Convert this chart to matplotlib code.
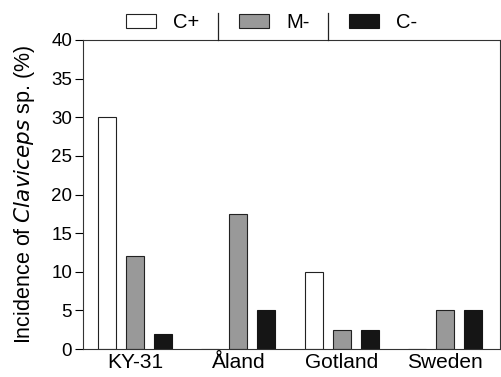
import matplotlib
matplotlib.use('Agg')
import matplotlib.pyplot as plt
import numpy as np

plt.rcParams['font.family'] = ['Liberation Sans', 'DejaVu Sans']

# Datos
sites = ['KY-31', 'Åland', 'Gotland', 'Sweden']
c_plus = [30, 0, 10, 0]
m_minus = [12, 17.5, 2.5, 5]
c_minus = [2, 5, 2.5, 5]

fig = plt.figure(figsize=(5.01, 3.77), dpi=100)
ax = fig.add_axes([0.166, 0.074, 0.832, 0.82])

x = np.arange(len(sites))
w = 0.174
off = 0.27
b1 = ax.bar(x - off, c_plus, w, color='white', edgecolor='#222222', linewidth=0.8, label='C+')
b2 = ax.bar(x, m_minus, w, color='#999999', edgecolor='#222222', linewidth=0.8, label='M-')
b3 = ax.bar(x + off, c_minus, w, color='#151515', edgecolor='#151515', linewidth=0.8, label='C-')

ax.set_xlim(-0.5, 3.53)
ax.set_ylim(0, 40)
ax.set_yticks(range(0, 41, 5))
ax.set_xticks(x)
ax.set_xticklabels(sites)
ax.tick_params(axis='x', length=0, labelsize=15, pad=3)
ax.tick_params(axis='y', length=6, width=0.8, labelsize=13.5, pad=2)
for s in ax.spines.values():
    s.set_linewidth(0.8)
    s.set_color('#333333')

ax.set_ylabel('Incidence of $\\mathit{Claviceps}$ sp. (%)', fontsize=15.5, labelpad=10)

# Leyenda arriba con separadores
fig.legend(handles=[b1, b2, b3], loc='center left', bbox_to_anchor=(126 / 501, 0.940), ncol=3,
           frameon=False, fontsize=14.5, handlelength=1.5, handleheight=0.75,
           columnspacing=1.95, handletextpad=0.85, borderpad=0, borderaxespad=0)
for xs in [218 / 501, 328 / 501]:
    fig.add_artist(plt.Line2D([xs, xs], [0.894, 0.966], color='#222222', linewidth=0.9))

fig.savefig('out.png', dpi=100)
plt.close(fig)
